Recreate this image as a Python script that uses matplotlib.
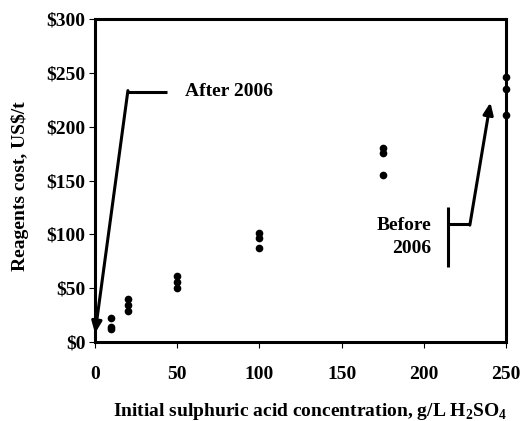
import matplotlib
matplotlib.use("Agg")
import matplotlib.pyplot as plt

plt.rcParams['font.family'] = ['Liberation Serif', 'DejaVu Serif']
plt.rcParams['font.weight'] = 'bold'
plt.rcParams['mathtext.fontset'] = 'custom'
plt.rcParams['mathtext.rm'] = 'Liberation Serif:bold'
plt.rcParams['mathtext.bf'] = 'Liberation Serif:bold'

# acid concentration (g/L) and reagent cost (US$/t), three runs each
acid = [10, 20, 50, 100, 175, 250]
cost_a = [22, 40, 61, 101, 180, 246]
cost_b = [14, 34, 56, 97, 176, 235]
cost_c = [12, 29, 50, 87, 155, 211]

x_ticks = [0, 50, 100, 150, 200, 250]
y_ticks = [0, 50, 100, 150, 200, 250, 300]
y_labels = ['$' + str(v) for v in y_ticks]

fig = plt.figure(figsize=(5.23, 4.21), dpi=100)
ax = fig.add_axes([0.1817, 0.1876, 0.7858, 0.7672])

for series in (cost_a, cost_b, cost_c):
    ax.plot(acid, series, 'o', color='black', markersize=4.5, clip_on=False)

ax.set_xlim(0, 250)
ax.set_ylim(0, 300)
ax.set_xticks(x_ticks)
ax.set_yticks(y_ticks)
ax.set_yticklabels(y_labels)
ax.tick_params(axis='both', direction='out', length=4, width=0.8,
               labelsize=14, pad=3)
ax.tick_params(axis='x', pad=13)
for s in ax.spines.values():
    s.set_linewidth(2.2)

ax.set_xlabel('Initial sulphuric acid concentration, g/L H$_2$SO$_4$',
              fontsize=14, fontweight='bold')
ax.set_ylabel('Reagents cost, US\\$/t', fontsize=14, fontweight='bold')
ax.xaxis.set_label_coords(0.523, -0.183)
ax.yaxis.set_label_coords(-0.16, 0.481)

# "After 2006" callout
ax.plot([44, 20], [232.5, 232.5], color='black', lw=2.2, solid_capstyle='butt')
ax.annotate('', xy=(0, 8), xytext=(20, 233.5),
            arrowprops=dict(arrowstyle='-|>,head_length=0.7,head_width=0.3',
                            color='black', lw=2.2, shrinkA=0, shrinkB=0))
ax.text(55, 232.5, 'After 2006', fontsize=14, fontweight='bold', va='center', ha='left')

# "Before 2006" callout
ax.plot([215, 215], [70, 125], color='black', lw=2.2, solid_capstyle='butt')
ax.plot([215, 228], [109.6, 109.6], color='black', lw=2.2, solid_capstyle='butt')
ax.annotate('', xy=(240.5, 222.5), xytext=(228, 108.6),
            arrowprops=dict(arrowstyle='-|>,head_length=0.7,head_width=0.3',
                            color='black', lw=2.2, shrinkA=0, shrinkB=0))
ax.text(204.5, 97.5, 'Before\n2006', fontsize=14, fontweight='bold',
        va='center', ha='right', multialignment='right', linespacing=1.45)

fig.savefig('out.png', dpi=100)
